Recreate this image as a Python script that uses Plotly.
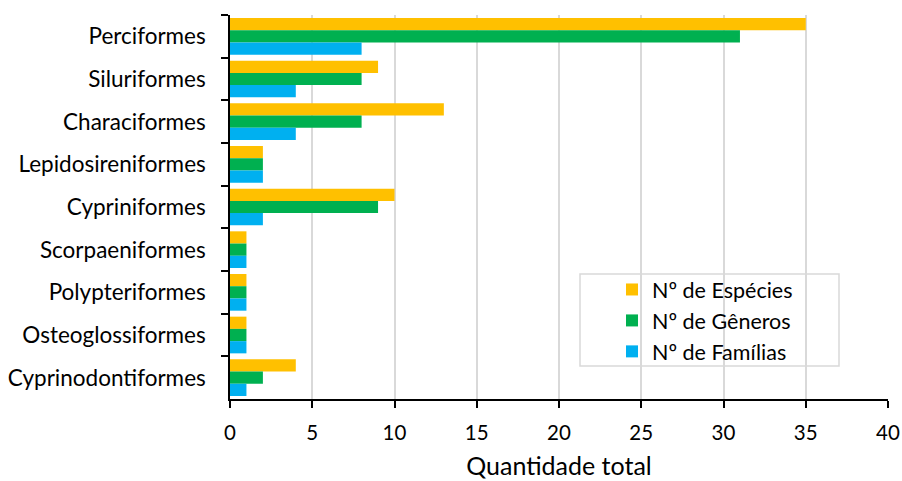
import plotly.graph_objects as go

categories = ["Perciformes", "Siluriformes", "Characiformes", "Lepidosireniformes",
              "Cypriniformes", "Scorpaeniformes", "Polypteriformes",
              "Osteoglossiformes", "Cyprinodontiformes"]
especies = [35, 9, 13, 2, 10, 1, 1, 1, 4]
generos = [31, 8, 8, 2, 9, 1, 1, 1, 2]
familias = [8, 4, 4, 2, 2, 1, 1, 1, 1]
series_names = ["Nº de Espécies", "Nº de Gêneros", "Nº de Famílias"]
colors = ["#FFC000", "#00B050", "#00B0F0"]
x_ticks = [0, 5, 10, 15, 20, 25, 30, 35, 40]

FONT = "Lato"

fig = go.Figure()
for i, (name, vals, col) in enumerate(zip(series_names, [especies, generos, familias], colors)):
    fig.add_trace(go.Bar(y=categories, x=vals, name=name, orientation="h",
                         legendgroup=f"g{i}",
                         marker=dict(color=col, line=dict(width=0))))

fig.update_layout(
    width=902, height=481,
    margin=dict(l=230, r=14, t=15, b=82),
    paper_bgcolor="white", plot_bgcolor="white",
    barmode="group", bargap=0.14, bargroupgap=0,
    font=dict(family=FONT, size=18, color="#000000"),
    showlegend=True,
    legend=dict(x=(612 - 230) / 658, y=(399 - 269) / 384, xanchor="left", yanchor="top",
                bgcolor="rgba(0,0,0,0)", borderwidth=0,
                font=dict(family=FONT, size=21.5), tracegroupgap=0,
                traceorder="grouped", itemwidth=30),
    shapes=[dict(type="rect", xref="paper", yref="paper",
                 x0=(580 - 230) / 658, x1=(839 - 230) / 658,
                 y0=(399 - 366) / 384, y1=(399 - 274) / 384,
                 line=dict(color="#D9D9D9", width=1.5), fillcolor="white",
                 layer="below")],
)
fig.update_xaxes(range=[0, 40], tickvals=x_ticks, showgrid=True,
                 gridcolor="#D9D9D9", gridwidth=1.5, showline=True,
                 linecolor="black", linewidth=1.5, ticks="outside", ticklen=7,
                 tickcolor="black", tickwidth=1.5, zeroline=False, automargin=False,
                 ticklabelstandoff=8,
                 title=dict(text="Quantidade total", font=dict(size=25), standoff=14),
                 tickfont=dict(size=20.5))
fig.update_yaxes(autorange="reversed", type="category", tickson="boundaries",
                 showline=True, linecolor="black", linewidth=1.5, automargin=False,
                 ticks="outside", ticklen=7, tickcolor="black", tickwidth=1.5,
                 ticklabelstandoff=18,
                 showgrid=False, tickfont=dict(size=22.5))

fig.write_html("out.html")
